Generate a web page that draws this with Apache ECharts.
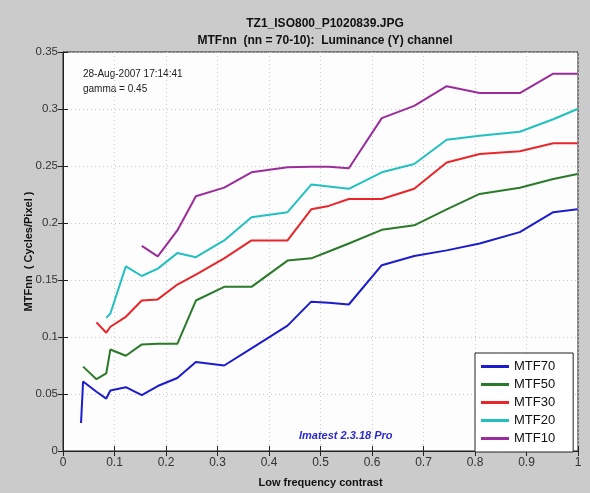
<!DOCTYPE html>
<html>
<head>
<meta charset="utf-8">
<script src="https://cdn.jsdelivr.net/npm/echarts@6/dist/echarts.min.js"></script>
<style>
  html, body { margin: 0; padding: 0; background: #cbcbcb; }
  #chart { width: 590px; height: 493px; }
</style>
</head>
<body>
<div id="chart"></div>
<script>
// low frequency contrast of each patch (shared by all curves)
const contrast = [0.035, 0.039, 0.065, 0.084, 0.092, 0.122, 0.153, 0.184, 0.222, 0.258, 0.313, 0.366,
    0.436, 0.482, 0.516, 0.555, 0.619, 0.682, 0.745, 0.809, 0.887, 0.952, 0.999];

const mtf70 = [0.0245, 0.061, 0.052, 0.046, 0.053, 0.056, 0.049, 0.057, 0.064, 0.078, 0.075, 0.090,
    0.110, 0.131, 0.130, 0.1285, 0.163, 0.171, 0.176, 0.182, 0.192, 0.2095, 0.212];
const mtf50 = [null, 0.074, 0.063, 0.068, 0.089, 0.0836, 0.0935, 0.094, 0.094, 0.132, 0.144, 0.144,
    0.167, 0.169, 0.175, 0.182, 0.194, 0.198, 0.212, 0.2255, 0.231, 0.2386, 0.243];
const mtf30 = [null, null, 0.1128, 0.1037, 0.109, 0.1177, 0.132, 0.133, 0.146, 0.1547, 0.169, 0.1847,
    0.1847, 0.212, 0.215, 0.221, 0.221, 0.230, 0.253, 0.2605, 0.263, 0.270, 0.270];
const mtf20 = [null, null, null, 0.1168, 0.1206, 0.162, 0.1535, 0.160, 0.1736, 0.170, 0.1847, 0.205,
    0.2095, 0.2337, 0.232, 0.230, 0.2445, 0.2517, 0.273, 0.2765, 0.280, 0.291, 0.300];
const mtf10 = [null, null, null, null, null, null, 0.180, 0.1707, 0.1935, 0.2235, 0.231, 0.2445,
    0.249, 0.2494, 0.2494, 0.248, 0.292, 0.3027, 0.320, 0.314, 0.314, 0.331, 0.331];

const seriesNames = ['MTF70', 'MTF50', 'MTF30', 'MTF20', 'MTF10'];
const seriesValues = [mtf70, mtf50, mtf30, mtf20, mtf10];
const colors = ['#1c1ccc', '#2a7a2a', '#e8262a', '#22c0c0', '#9b2c9b'];

function pairs(vals) {
    const out = [];
    vals.forEach(function (v, i) {
        if (v !== null) out.push([contrast[i], v]);
    });
    return out;
}

const font = 'Liberation Sans, Arial, sans-serif';
const chart = echarts.init(document.getElementById('chart'));

const gridLine = { show: true, lineStyle: { color: '#c8c8c8', type: [1, 3], width: 1 } };

chart.setOption({
    animation: false,
    backgroundColor: '#cbcbcb',
    textStyle: { fontFamily: font },
    title: {
        text: 'TZ1_ISO800_P1020839.JPG\nMTFnn  (nn = 70-10):  Luminance (Y) channel',
        left: 320, top: 10, textAlign: 'center',
        textStyle: { fontSize: 12, fontWeight: 'bold', color: '#111', lineHeight: 17, fontFamily: font }
    },
    grid: { left: 63, right: 12, top: 52, bottom: 40, show: true, backgroundColor: '#fdfdfd',
        borderColor: '#222', borderWidth: 1 },
    legend: {
        orient: 'vertical', left: 475, top: 353, padding: [7, 18, 7, 6],
        itemGap: 5, itemWidth: 28, itemHeight: 12.5,
        backgroundColor: '#fff', borderColor: '#222', borderWidth: 1,
        icon: 'path://M0,5 L28,5 L28,8 L0,8 Z',
        textStyle: { fontSize: 13, color: '#111', fontFamily: font },
        data: seriesNames
    },
    xAxis: [{
        type: 'value', min: 0, max: 1, interval: 0.1,
        name: 'Low frequency contrast', nameLocation: 'middle', nameGap: 26,
        nameTextStyle: { fontSize: 11, fontWeight: 'bold', color: '#111' },
        axisLine: { lineStyle: { color: '#222' } },
        axisTick: { inside: true, length: 5, lineStyle: { color: '#222' } },
        axisLabel: { color: '#333', fontSize: 12, margin: 6,
            formatter: function (v) { return String(+v.toFixed(1)); } },
        splitLine: gridLine
    }, {
        type: 'value', min: 0, max: 1, interval: 0.1, position: 'top',
        axisLine: { show: false },
        axisTick: { inside: true, length: 5, lineStyle: { color: '#222' } },
        axisLabel: { show: false }, splitLine: { show: false }
    }],
    yAxis: [{
        type: 'value', min: 0, max: 0.35, interval: 0.05,
        name: 'MTFnn  ( Cycles/Pixel )', nameLocation: 'middle', nameGap: 29, nameMoveOverlap: false,
        nameTextStyle: { fontSize: 11, fontWeight: 'bold', color: '#111' },
        axisLine: { show: true, lineStyle: { color: '#222' } },
        axisTick: { show: true, inside: true, length: 5, lineStyle: { color: '#222' } },
        axisLabel: { color: '#333', fontSize: 11.5, margin: 5,
            formatter: function (v) { return String(+v.toFixed(2)); } },
        splitLine: gridLine
    }, {
        type: 'value', min: 0, max: 0.35, interval: 0.05, position: 'right',
        axisLine: { show: false },
        axisTick: { show: true, inside: true, length: 5, lineStyle: { color: '#222' } },
        axisLabel: { show: false }, splitLine: { show: false }
    }],
    graphic: [
        { type: 'text', left: 83, top: 69, style: { text: '28-Aug-2007 17:14:41', fontSize: 10, fill: '#222', fontFamily: font } },
        { type: 'text', left: 83, top: 84, style: { text: 'gamma = 0.45', fontSize: 10, fill: '#222', fontFamily: font } },
        { type: 'text', left: 299, top: 430, style: { text: 'Imatest 2.3.18 Pro', fontSize: 11, fontWeight: 'bold',
            fontStyle: 'italic', fill: '#2a2acc', fontFamily: font } }
    ],
    series: seriesValues.map(function (vals, i) {
        return {
            name: seriesNames[i], type: 'line', data: pairs(vals),
            showSymbol: false, symbol: 'none',
            lineStyle: { width: 2, color: colors[i] },
            itemStyle: { color: colors[i] },
            z: 10 - i
        };
    })
});
</script>
</body>
</html>
